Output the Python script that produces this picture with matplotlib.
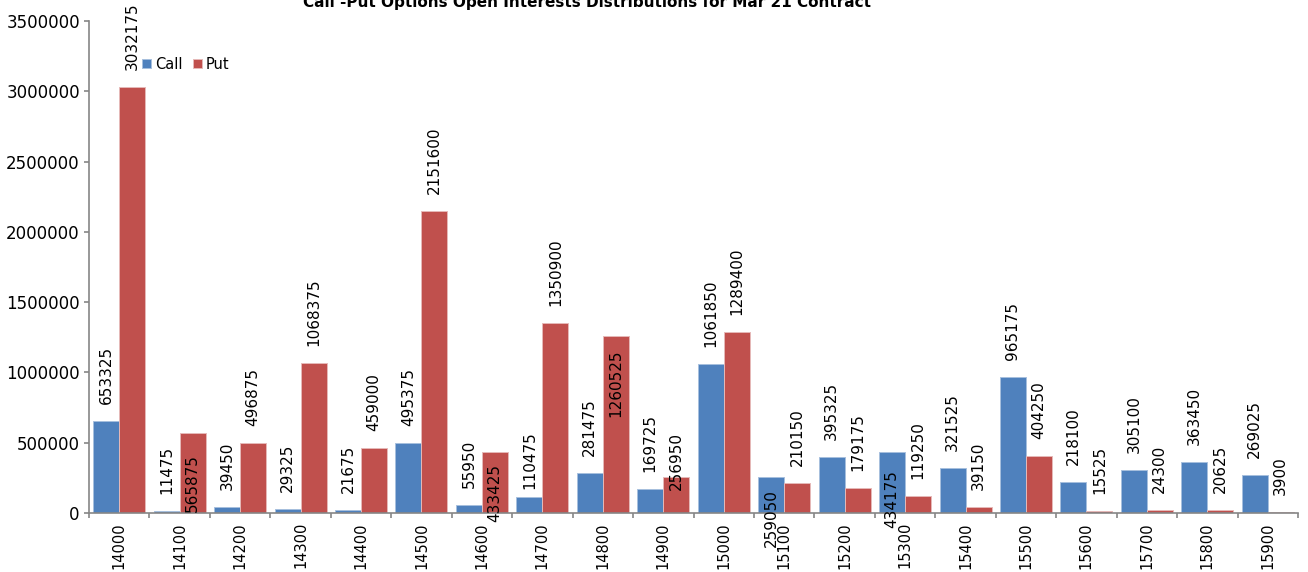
import matplotlib
matplotlib.use("Agg")
import matplotlib.pyplot as plt
import numpy as np
from matplotlib.ticker import FixedLocator, NullFormatter, FixedFormatter

# ---------------- data ----------------
strikes = ["14000", "14100", "14200", "14300", "14400", "14500", "14600", "14700",
           "14800", "14900", "15000", "15100", "15200", "15300", "15400", "15500",
           "15600", "15700", "15800", "15900"]
call_oi = [653325, 11475, 39450, 29325, 21675, 495375, 55950, 110475,
           281475, 169725, 1061850, 259050, 395325, 434175, 321525, 965175,
           218100, 305100, 363450, 269025]
put_oi = [3032175, 565875, 496875, 1068375, 459000, 2151600, 433425, 1350900,
          1260525, 256950, 1289400, 210150, 179175, 119250, 39150, 404250,
          15525, 24300, 20625, 3900]
y_ticks = [0, 500000, 1000000, 1500000, 2000000, 2500000, 3000000, 3500000]
title = "Call -Put Options Open Interests Distributions for Mar 21 Contract"

# label offsets (in pixels above the bar top) where the original deviates
default_gap_px = 17
label_gap_px = {("Call", 7): 8, ("Put", 1): -79, ("Put", 6): -70,
                ("Put", 8): -81, ("Put", 9): -13, ("Call", 11): -70, ("Call", 13): -76}

# ---------------- style ----------------
W, H, DPI = 1308, 572, 100
call_color = "#4F81BD"
put_color = "#C0504D"
axis_color = "#868686"
plt.rcParams["font.family"] = ["DejaVu Sans"]

fig = plt.figure(figsize=(W / DPI, H / DPI), dpi=DPI)
ax = fig.add_axes([89 / W, 1 - 513 / H, (1298 - 89) / W, (513 - 21) / H])

x = np.arange(len(strikes))
bw = 0.43
bars_c = ax.bar(x - bw / 2, call_oi, width=bw, color=call_color,
                edgecolor="#A7BFDE", linewidth=0.7, label="Call")
bars_p = ax.bar(x + bw / 2, put_oi, width=bw, color=put_color,
                edgecolor="#E6B9B8", linewidth=0.7, label="Put")

ax.set_xlim(-0.5, len(strikes) - 0.5)
ax.set_ylim(0, 3500000)

# data labels
for name, bars, vals in (("Call", bars_c, call_oi), ("Put", bars_p, put_oi)):
    for i, (b, v) in enumerate(zip(bars, vals)):
        gap = label_gap_px.get((name, i), default_gap_px)
        ax.annotate(str(v), (b.get_x() + b.get_width() / 2, v),
                    xytext=(0, gap * 72 / DPI), textcoords="offset points",
                    rotation=90, ha="center", va="bottom", fontsize=11,
                    color="black", annotation_clip=False)

# spines
for s in ("top", "right"):
    ax.spines[s].set_visible(False)
for s in ("left", "bottom"):
    ax.spines[s].set_color(axis_color)
    ax.spines[s].set_linewidth(1.2)

# y ticks
ax.yaxis.set_major_locator(FixedLocator(y_ticks))
ax.yaxis.set_major_formatter(FixedFormatter([str(t) for t in y_ticks]))
ax.tick_params(axis="y", direction="out", length=5 * 72 / DPI, width=1.2,
               color=axis_color, labelsize=12, pad=3)

# x ticks: marks at category boundaries, labels at centres
ax.xaxis.set_major_locator(FixedLocator(np.arange(-0.5, len(strikes), 1.0)))
ax.xaxis.set_major_formatter(NullFormatter())
ax.xaxis.set_minor_locator(FixedLocator(x))
ax.xaxis.set_minor_formatter(FixedFormatter(strikes))
ax.tick_params(axis="x", which="major", direction="out", length=5 * 72 / DPI,
               width=1.2, color=axis_color)
ax.tick_params(axis="x", which="minor", length=0, labelsize=10.5, pad=6.5,
               labelrotation=90)

# legend
ax.legend(loc="upper left", bbox_to_anchor=(142 / W, 1 - 57 / H),
          bbox_transform=fig.transFigure, ncol=2, frameon=False,
          fontsize=10.5, handlelength=0.6, handleheight=0.6,
          handletextpad=0.3, columnspacing=0.7, borderpad=0, borderaxespad=0)

# title (partially cut at the top like the original)
fig.text(587 / W, 1 - 2 / H, title, ha="center", va="center",
         fontsize=11, fontweight="bold", color="black")

fig.savefig("out.png", dpi=DPI)
